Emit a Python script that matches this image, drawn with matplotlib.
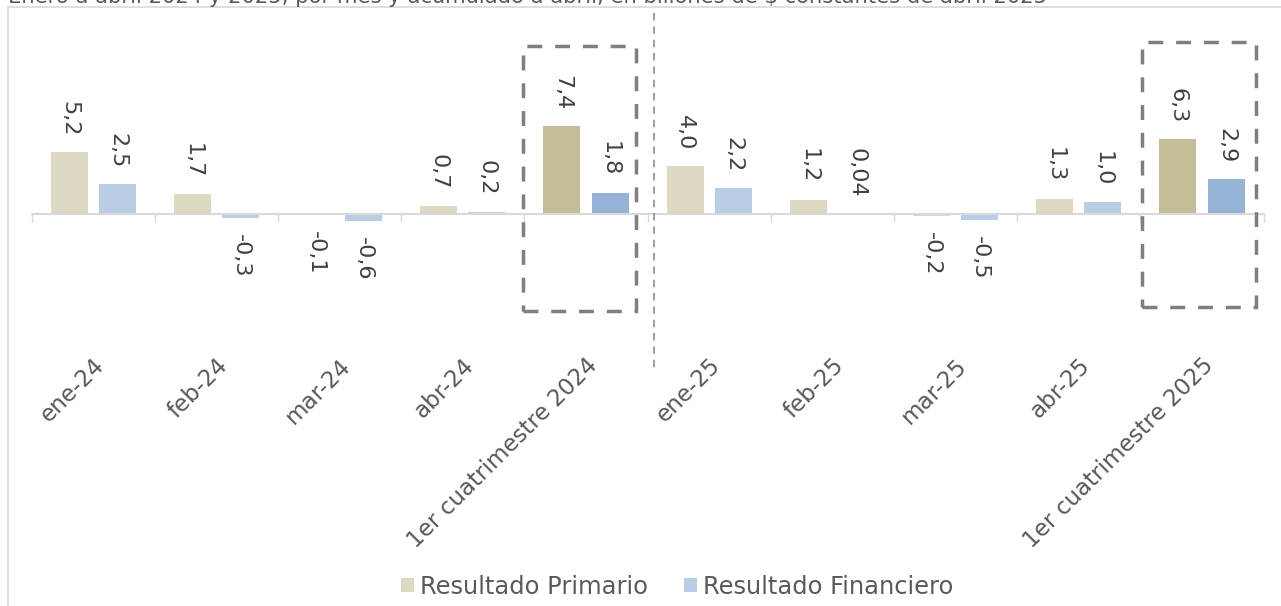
import matplotlib
matplotlib.use("Agg")
import matplotlib.pyplot as plt
import matplotlib.transforms as mtransforms
from matplotlib.patches import Rectangle
from matplotlib.lines import Line2D
import numpy as np

# ---------------- data ----------------
categories = ["ene-24", "feb-24", "mar-24", "abr-24", "1er cuatrimestre 2024",
              "ene-25", "feb-25", "mar-25", "abr-25", "1er cuatrimestre 2025"]
resultado_primario = [5.2, 1.7, -0.1, 0.7, 7.4, 4.0, 1.2, -0.2, 1.3, 6.3]
resultado_financiero = [2.5, -0.3, -0.6, 0.2, 1.8, 2.2, 0.04, -0.5, 1.0, 2.9]
series_names = ["Resultado Primario", "Resultado Financiero"]
subtitle = ("Enero a abril 2024 y 2025, por mes y acumulado a abril, "
            "en billones de $ constantes de abril 2025")

# ---------------- layout ----------------
W, H = 1281, 606
fig = plt.figure(figsize=(W / 100, H / 100), dpi=100)


def fx(px):
    return px / W


def fy(py):
    return 1 - py / H


AX_L, AX_R, AX_T, AX_B = 31.6, 1263.6, 30, 340
ZERO_PX, PX_PER_UNIT = 214, 11.9
ax = fig.add_axes([fx(AX_L), fy(AX_B), (AX_R - AX_L) / W, (AX_B - AX_T) / H])
ax.set_xlim(-0.5, len(categories) - 0.5)
ax.set_ylim(-(AX_B - ZERO_PX) / PX_PER_UNIT, (ZERO_PX - AX_T) / PX_PER_UNIT)

FS = 16
x = np.arange(len(categories))
bw, off = 0.30, 0.195
is_total = [c.startswith("1er") for c in categories]
col_prim = ["#C4BD97" if t else "#DDD9C3" for t in is_total]
col_fin = ["#95B3D7" if t else "#B9CDE5" for t in is_total]

b1 = ax.bar(x - off, resultado_primario, bw, color=col_prim, label=series_names[0], zorder=2)
b2 = ax.bar(x + off, resultado_financiero, bw, color=col_fin, label=series_names[1], zorder=2)


def fmt(v):
    s = f"{v:.2f}" if (v != 0 and abs(v) < 0.1) else f"{v:.1f}"
    return s.replace(".", ",")


for cont, vals in ((b1, resultado_primario), (b2, resultado_financiero)):
    for r, v in zip(cont, vals):
        xc = r.get_x() + r.get_width() / 2
        ax.annotate(fmt(v), (xc, v), xytext=(0, 11.5 if v >= 0 else -11.5),
                    textcoords="offset points", rotation=-90, ha="center",
                    va="bottom" if v >= 0 else "top", fontsize=FS, color="#404040")

# axis styling
for s in ("top", "left", "right"):
    ax.spines[s].set_visible(False)
ax.spines["bottom"].set_position(("data", 0))
ax.spines["bottom"].set_color("#D9D9D9")
ax.spines["bottom"].set_linewidth(1.5)
ax.spines["bottom"].set_zorder(3)
ax.set_yticks([])
ax.set_xticks(np.arange(-0.5, len(categories)))
ax.set_xticklabels([])
ax.tick_params(axis="x", direction="out", length=6, width=1, color="#D9D9D9")
ax.patch.set_alpha(0)

# category labels at the bottom
trans = mtransforms.blended_transform_factory(ax.transData, ax.transAxes)
ylab = (AX_B - 362) / (AX_B - AX_T)
for i, c in enumerate(categories):
    ax.text(i + 0.065, ylab, c, transform=trans, rotation=45, rotation_mode="anchor",
            ha="right", va="center", fontsize=16.6, color="#595959")

# dashed highlight boxes (annotation shapes)
box_style = dict(fill=False, edgecolor="#7F7F7F", linewidth=2.5,
                 linestyle=(0, (4.3, 3.7)), clip_on=False, zorder=4)
ax.add_patch(Rectangle((3.486, -8.15), 0.92, 22.29, **box_style))
ax.add_patch(Rectangle((8.515, -7.79), 0.921, 22.22, **box_style))

# vertical separator between years
fig.add_artist(Line2D([fx(654), fx(654)], [fy(13), fy(372)], color="#8C8C8C",
                      linewidth=1.2, linestyle=(0, (4.5, 3.5))))

# outer chart border (partially visible)
fig.add_artist(Line2D([fx(7.5), fx(7.5)], [fy(6.5), 0], color="#D9D9D9", linewidth=1.2))
fig.add_artist(Line2D([fx(7.5), 1], [fy(6.5), fy(6.5)], color="#D9D9D9", linewidth=1.2))

# subtitle, cut off at the very top as in the source image
fig.text(fx(8), fy(3.0), subtitle, ha="left", va="baseline", fontsize=15.2, color="#595959")

# legend
fig.legend(handles=[b1, b2], loc="center", bbox_to_anchor=(fx(677), fy(587)), ncol=2,
           frameon=False, fontsize=17.4, handlelength=0.52, handleheight=0.52,
           handletextpad=0.25, columnspacing=1.5, labelcolor="#595959",
           borderaxespad=0, borderpad=0)

fig.savefig("out.png", dpi=100)
